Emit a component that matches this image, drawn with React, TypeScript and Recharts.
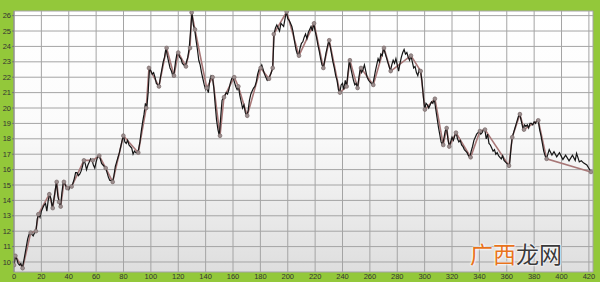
import React from 'react'
import { LineChart, Line, XAxis, YAxis, CartesianGrid } from 'recharts'

// daily closing price, one value per day from day 0 to day 389
const dailyPrice = [
  9.8, 10.4, 10.2, 9.9, 9.8, 9.9, 9.6, 10.0, 10.5, 11.0,
  11.5, 11.8, 11.9, 11.8, 11.7, 11.9, 12.0, 12.8, 13.1, 12.9,
  13.3, 13.5, 13.7, 13.8, 13.3, 14.0, 14.4, 14.1, 13.5, 14.0,
  14.6, 15.2, 14.3, 13.9, 13.6, 14.5, 15.2, 15.1, 14.9, 14.8,
  14.7, 14.9, 14.9, 15.1, 15.4, 15.8, 15.8, 15.6, 15.7, 15.9,
  16.2, 16.6, 16.4, 16.0, 16.3, 16.5, 16.7, 16.6, 16.3, 16.1,
  16.5, 16.8, 16.9, 16.7, 16.4, 16.3, 16.2, 16.1, 15.8, 15.5,
  15.3, 15.3, 15.2, 15.6, 16.2, 16.5, 16.8, 17.1, 17.5, 17.9,
  18.2, 17.8, 17.7, 17.9, 17.6, 17.5, 17.4, 17.0, 17.2, 17.1,
  17.1, 17.3, 17.8, 18.5, 19.1, 19.6, 20.3, 20.0, 21.0, 22.6,
  22.4, 22.2, 22.3, 22.0, 21.6, 21.5, 21.4, 22.0, 22.5, 23.0,
  23.3, 23.9, 23.4, 23.0, 22.6, 22.4, 22.1, 22.3, 23.0, 23.5,
  23.6, 23.3, 23.2, 22.9, 22.8, 22.7, 23.0, 23.3, 23.9, 25.0,
  26.2, 25.4, 25.1, 24.4, 23.8, 23.1, 22.8, 22.3, 21.9, 21.5,
  21.2, 21.3, 21.0, 21.8, 22.1, 22.0, 21.3, 20.2, 19.2, 18.6,
  18.2, 19.4, 20.5, 20.7, 20.8, 21.0, 20.9, 21.2, 21.6, 21.9,
  22.0, 21.7, 21.4, 21.2, 21.4, 20.8, 20.4, 20.0, 20.2, 19.7,
  19.5, 19.8, 20.5, 20.9, 21.1, 21.3, 21.4, 21.7, 22.2, 22.5,
  22.6, 22.8, 22.5, 22.2, 22.0, 21.8, 21.9, 22.1, 22.3, 22.6,
  24.8, 25.2, 25.4, 25.2, 25.0, 25.5, 25.4, 25.3, 25.8, 26.25,
  25.8, 25.7, 25.5, 25.3, 24.9, 24.3, 23.8, 23.5, 23.4, 23.9,
  24.2, 24.3, 24.6, 24.8, 24.5, 24.9, 25.1, 25.3, 25.0, 25.5,
  25.0, 24.6, 24.1, 23.7, 23.2, 22.8, 22.6, 23.1, 23.6, 24.0,
  24.4, 24.0, 23.5, 23.0, 22.6, 22.1, 21.8, 21.2, 21.0, 21.5,
  21.6, 21.2, 21.8, 21.4, 22.3, 23.1, 22.6, 22.2, 21.8, 21.5,
  21.6, 21.3, 22.0, 22.6, 22.3, 22.5, 22.8, 22.4, 22.0, 21.8,
  21.7, 21.6, 21.5, 21.9, 22.4, 22.8, 23.2, 23.0, 23.5, 23.4,
  23.9, 23.6, 23.3, 23.0, 22.7, 22.4, 22.8, 23.1, 22.9, 23.2,
  22.8, 22.4, 22.9, 23.3, 23.6, 23.8, 23.5, 23.6, 23.3, 23.1,
  23.4, 23.0, 22.6, 22.7, 22.3, 22.1, 22.5, 22.4, 21.8, 20.8,
  19.9, 20.3, 20.2, 20.0, 20.2, 20.4, 20.3, 20.6, 20.0, 19.4,
  18.8, 18.3, 17.8, 17.6, 18.0, 18.5, 18.7, 18.0, 17.5, 17.8,
  18.1, 17.9, 18.2, 18.4, 18.0, 17.8, 17.9, 17.6, 17.5, 17.3,
  17.2, 17.1, 16.9, 16.8, 17.2, 17.5, 17.9, 18.1, 18.3, 18.4,
  18.5, 18.3, 18.4, 18.6, 18.6, 18.0, 18.3, 17.7, 17.6, 17.4,
  17.2, 17.3, 17.0, 17.1, 16.9, 16.8, 16.7, 16.9, 16.6, 16.5,
  16.4, 16.3, 16.25, 17.3, 18.1, 18.4, 18.7, 19.0, 19.3, 19.6,
  19.4, 19.0, 18.6, 18.9, 18.8, 18.9, 18.7, 19.0, 19.0, 18.9,
  19.1, 19.0, 19.2, 19.2, 18.6, 18.2, 17.7, 17.2, 16.9, 16.7,
]

// last stretch, read at the zigzag turning points
const tailDays = [391, 393, 394.5, 396.5, 398.5, 401, 403, 405.5, 408, 410, 411, 413, 414.5, 416, 418.5, 421.5]
const tailPrice = [17.3, 16.94, 17.16, 16.83, 17.1, 16.66, 16.94, 16.57, 16.94, 16.6, 17.05, 16.5, 16.57, 16.44, 16.3, 15.86]

// sampled series with markers
const weekDays = [
  0, 1, 6.3, 12.2, 16, 17.8, 25.8, 28.3, 31.2, 32.9, 34.1, 36.5, 38.9, 42.1,
  51.1, 57.5, 62.3, 67, 72.1, 79.9, 90.8, 96.6, 98.6, 105.9, 111.5, 116.9, 120,
  125.6, 128.6, 129.8, 132.2, 140.8, 145.1, 150.5, 153.4, 160.9, 163.9, 170.4,
  180.2, 186.3, 189, 189.8, 199.2, 208.2, 219.2, 226, 230.3, 238.1, 243, 245.4,
  251, 253.5, 262.5, 270.3, 275.2, 290, 297.1, 300.2, 307.5, 313.6, 316.1, 318,
  322.9, 333.6, 340.4, 344.1, 361.6, 364, 369.6, 372.6, 383, 389.1, 421.5,
]
const weekPrice = [
  9.8, 10.4, 9.6, 11.9, 12.0, 13.1, 14.4, 13.5, 15.2, 13.9, 13.6, 15.2, 14.8, 14.9,
  16.6, 16.6, 16.9, 16.1, 15.2, 18.2, 17.1, 20.0, 22.6, 21.4, 23.9, 22.1, 23.6,
  22.7, 23.9, 26.2, 25.1, 21.3, 22.0, 18.2, 20.7, 22.0, 21.4, 19.5,
  22.6, 21.9, 22.6, 24.8, 26.25, 23.4, 25.5, 22.6, 24.4, 21.0, 21.4, 23.1,
  21.3, 22.6, 21.5, 23.9, 22.4, 23.4, 22.4, 19.9, 20.6, 17.6, 18.7, 17.5,
  18.4, 16.8, 18.5, 18.6, 16.25, 18.1, 19.6, 18.6, 19.2, 16.7, 15.85,
]

const xTicks = [0, 20, 40, 60, 80, 100, 120, 140, 160, 180, 200, 220, 240, 260, 280, 300, 320, 340, 360, 380, 400, 420]
const yTicks = [10, 11, 12, 13, 14, 15, 16, 17, 18, 19, 20, 21, 22, 23, 24, 25, 26]

const daily = dailyPrice
  .map((p, i) => ({ x: i, y: p }))
  .concat(tailDays.map((d, i) => ({ x: d, y: tailPrice[i] })))
const weekly = weekDays.map((d, i) => ({ x: d, y: weekPrice[i] }))

const tickStyle = { fontSize: 7.5, fill: '#333', fontFamily: 'Liberation Sans, Arial, sans-serif' }

export default function App() {
  return (
    <div style={{ position: 'absolute', left: 0, top: 0, width: 600, height: 282, background: '#93c83a' }}>
      <LineChart width={600} height={282} margin={{ top: 11, right: 7, bottom: 0, left: 0 }}>
        <defs>
          <linearGradient id="plotBg" x1="0" y1="0" x2="0" y2="1">
            <stop offset="0" stopColor="#ffffff" />
            <stop offset="0.45" stopColor="#fbfbfb" />
            <stop offset="1" stopColor="#dedede" />
          </linearGradient>
        </defs>
        <CartesianGrid stroke="#a4a4a4" fill="url(#plotBg)" fillOpacity={1} />
        <XAxis
          type="number"
          dataKey="x"
          domain={[0, 423]}
          ticks={xTicks}
          allowDataOverflow
          height={10}
          tickLine={false}
          axisLine={false}
          tickSize={0}
          tickMargin={2}
          tick={tickStyle}
          interval={0}
        />
        <YAxis
          type="number"
          domain={[9.35, 26.3]}
          ticks={yTicks}
          allowDataOverflow
          width={14}
          tickSize={2}
          tickMargin={1}
          tickLine={{ stroke: '#777' }}
          axisLine={{ stroke: '#888' }}
          tick={tickStyle}
          interval={0}
        />
        <Line data={weekly} dataKey="y" stroke="#a87878" strokeWidth={1.6} dot={false} isAnimationActive={false} />
        <Line data={daily} dataKey="y" stroke="#151515" strokeWidth={1.2} dot={false} isAnimationActive={false} />
        <Line
          data={weekly}
          dataKey="y"
          stroke="none"
          dot={{ r: 1.9, fill: '#9c8e8e', stroke: '#7a6c6c', strokeWidth: 0.7 }}
          isAnimationActive={false}
        />
      </LineChart>
      <div
        style={{
          position: 'absolute',
          left: 470,
          top: 240,
          fontSize: 23,
          lineHeight: '26px',
          fontFamily: '"Noto Sans CJK SC", sans-serif',
          textShadow: '0 0 2px #fff, 0 0 2px #fff, 0 0 3px #fff',
          letterSpacing: 0,
        }}
      >
        <span style={{ color: '#e8731c' }}>广西</span>
        <span style={{ color: '#3b3b3b' }}>龙网</span>
      </div>
    </div>
  )
}
